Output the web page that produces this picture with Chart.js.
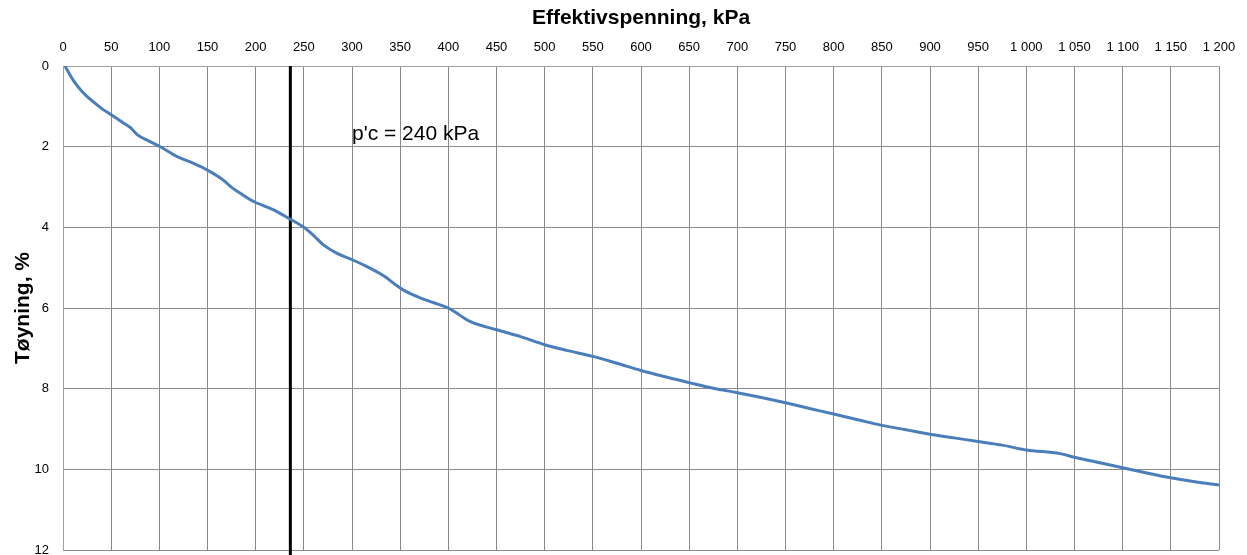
<!DOCTYPE html>
<html>
<head>
<meta charset="utf-8">
<script src="https://cdn.jsdelivr.net/npm/chart.js@4/dist/chart.umd.min.js"></script>
<style>
  html, body { margin: 0; padding: 0; background: #fff; }
  #wrap { width: 1247px; height: 555px; }
</style>
</head>
<body>
<div id="wrap"><canvas id="chart" width="1247" height="555"></canvas></div>
<script>
// Effective stress (kPa) and strain (%)
const stress = [2, 10, 20, 30, 40, 50, 62, 70, 77, 90, 100, 118, 135, 149, 161, 168, 175, 185, 198, 218,
    236, 250, 260, 270, 284, 301, 315, 334, 345, 353, 370, 385, 400, 412, 423, 450, 475, 500, 523, 550,
    575, 600, 624, 650, 675, 700, 725, 750, 775, 800, 825, 850, 875, 900, 925, 950, 975, 1000, 1035, 1050,
    1075, 1100, 1125, 1150, 1175, 1200];
const strain = [0, 0.33, 0.64, 0.86, 1.05, 1.21, 1.40, 1.53, 1.70, 1.87, 1.99, 2.24, 2.41, 2.57, 2.74, 2.86, 3.01, 3.17, 3.36, 3.56,
    3.80, 4.00, 4.20, 4.43, 4.64, 4.81, 4.97, 5.22, 5.42, 5.55, 5.74, 5.87, 6.00, 6.18, 6.34, 6.54, 6.71, 6.91, 7.05, 7.20,
    7.37, 7.55, 7.70, 7.85, 7.99, 8.10, 8.22, 8.35, 8.49, 8.63, 8.77, 8.91, 9.02, 9.13, 9.22, 9.31, 9.40, 9.52, 9.61, 9.70,
    9.83, 9.96, 10.09, 10.21, 10.31, 10.39];

// preconsolidation marker
const pcStress = [236, 236];
const pcStrain = [0, 12.15];
const pcLabel = "p'c = 240 kPa";
const pcLabelPos = [300, 1.83];

const xTitle = 'Effektivspenning, kPa';
const yTitle = 'Tøyning, %';

const curve = stress.map((x, i) => ({ x: x, y: strain[i] }));
const pcPoints = pcStress.map((x, i) => ({ x: x, y: pcStrain[i] }));

function fmtThousands(v) {
    return String(v).replace(/\B(?=(\d{3})+(?!\d))/g, ' ');
}

// writes the p'c text inside the plot
const pcText = {
    id: 'pcText',
    afterDatasetsDraw(chart) {
        const c = chart.ctx;
        const px = chart.scales.x.getPixelForValue(pcLabelPos[0]);
        const py = chart.scales.y.getPixelForValue(pcLabelPos[1]);
        c.save();
        c.font = '21px "Liberation Sans", Arial, sans-serif';
        c.fillStyle = '#000';
        c.textAlign = 'left';
        c.textBaseline = 'alphabetic';
        c.fillText(pcLabel, px, py);
        c.restore();
    }
};

new Chart(document.getElementById('chart').getContext('2d'), {
    type: 'scatter',
    data: {
        datasets: [{
            data: curve,
            showLine: true,
            borderColor: '#4a7ebb',
            borderWidth: 3,
            pointRadius: 0,
            cubicInterpolationMode: 'monotone'
        }, {
            data: pcPoints,
            showLine: true,
            borderColor: '#000',
            borderWidth: 3,
            pointRadius: 0,
            clip: false
        }]
    },
    options: {
        responsive: false,
        animation: false,
        layout: { padding: { left: 0, top: 0, right: 28, bottom: 5 } },
        plugins: {
            legend: { display: false },
            tooltip: { enabled: false }
        },
        scales: {
            x: {
                type: 'linear',
                position: 'top',
                min: 0,
                max: 1200,
                afterFit: s => { s.height = 66; },
                ticks: {
                    stepSize: 50,
                    padding: 11,
                    maxRotation: 0,
                    autoSkip: false,
                    color: '#000',
                    font: { family: '"Liberation Sans", Arial, sans-serif', size: 13 },
                    callback: v => fmtThousands(v)
                },
                grid: { color: '#8a8a8a', drawTicks: false },
                border: { color: '#a0a0a0' },
                title: {
                    display: true,
                    text: xTitle,
                    color: '#000',
                    padding: { top: 6, bottom: 0 },
                    font: { family: '"Liberation Sans", Arial, sans-serif', size: 21, weight: 'bold' }
                }
            },
            y: {
                type: 'linear',
                reverse: true,
                min: 0,
                max: 12,
                afterFit: s => { s.width = 63; s.paddingTop = 0; s.paddingBottom = 0; },
                ticks: {
                    stepSize: 2,
                    padding: 14,
                    color: '#000',
                    font: { family: '"Liberation Sans", Arial, sans-serif', size: 13 }
                },
                grid: { color: '#8a8a8a', drawTicks: false },
                border: { color: '#a0a0a0' },
                title: {
                    display: true,
                    text: yTitle,
                    color: '#000',
                    padding: { top: 11, bottom: 0 },
                    font: { family: '"Liberation Sans", Arial, sans-serif', size: 21, weight: 'bold' }
                }
            }
        }
    },
    plugins: [pcText]
});
</script>
</body>
</html>
